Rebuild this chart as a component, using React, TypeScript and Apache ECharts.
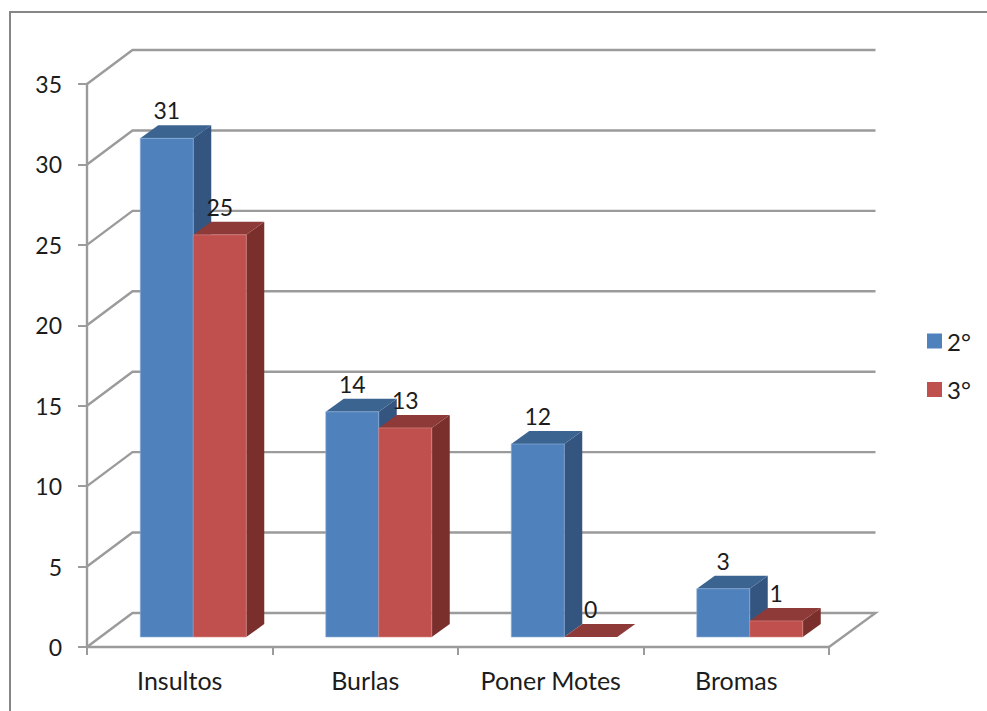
import React, { useEffect, useRef } from "react";
import * as echarts from "echarts";

const categories = ["Insultos", "Burlas", "Poner Motes", "Bromas"];
const seriesNames = ["2°", "3°"];
const values2 = [31, 14, 12, 3];
const values3 = [25, 13, 0, 1];
const wallTicks = [0, 5, 10, 15, 20, 25, 30, 35];

const FONT = "Lato";
const TEXT = "#1c1c1c";
const GRID_COLOR = "#9b9b9b";
const DEPTH_X = 45.5;
const DEPTH_Y = 34;
const WALL_EXTRA = 1;
const FLOOR_X = 13.5;
const FLOOR_Y = 10;
const BAR_W = 53;
const BAR_DX = 18;
const BAR_DY = 13;

const palette = [
  { front: "#4F81BD", top: "#3C6491", side: "#335580", edge: "#8FB2DC" },
  { front: "#C0504D", top: "#8E3A38", side: "#7A2F2D", edge: "#D98A88" },
];

function barRenderer(idx: number) {
  return (params: any, api: any) => {
    const cat = api.value(0);
    const val = api.value(1);
    const [cx, y0] = api.coord([cat, 0]);
    const [, yv] = api.coord([cat, val]);
    const left = cx + FLOOR_X + (idx === 0 ? -BAR_W : 0);
    const right = left + BAR_W;
    const bottom = y0 - FLOOR_Y;
    const top = yv - FLOOR_Y;
    const c = palette[idx];
    const poly = (points: number[][], fill: string) => ({
      type: "polygon",
      shape: { points },
      style: { fill },
    });
    return {
      type: "group",
      children: [
        poly(
          [
            [right, bottom],
            [right + BAR_DX, bottom - BAR_DY],
            [right + BAR_DX, top - BAR_DY],
            [right, top],
          ],
          c.side
        ),
        poly(
          [
            [left, top],
            [left + BAR_DX, top - BAR_DY],
            [right + BAR_DX, top - BAR_DY],
            [right, top],
          ],
          c.top
        ),
        {
          type: "rect",
          shape: { x: left, y: top, width: BAR_W, height: bottom - top },
          style: { fill: c.front, stroke: val > 0 ? c.edge : "none", lineWidth: 0.6 },
        },
        {
          type: "text",
          style: {
            text: String(val),
            x: (left + right) / 2,
            y: top - 28,
            align: "center",
            verticalAlign: "middle",
            fill: TEXT,
            font: `23px ${FONT}`,
          },
        },
      ],
    };
  };
}

function wallRenderer(params: any, api: any) {
  const tick = api.value(1);
  const [x0, y] = api.coord([0, tick]);
  const band = api.size([1, 0])[0];
  const xl = x0 - band / 2;
  const xr = xl + band * categories.length;
  const points = [
    [xl, y],
    [xl + DEPTH_X, y - DEPTH_Y],
    [xr + DEPTH_X + WALL_EXTRA, y - DEPTH_Y],
  ];
  if (tick === 0) points.push([xr, y]);
  return {
    type: "polyline",
    shape: { points },
    style: { fill: "none", stroke: GRID_COLOR, lineWidth: 2.4 },
  };
}

export default function App() {
  const ref = useRef<HTMLDivElement>(null);
  useEffect(() => {
    const chart = echarts.init(ref.current!, undefined, { renderer: "svg" });
    chart.setOption({
      animation: false,
      backgroundColor: "#ffffff",
      graphic: [
        {
          type: "rect",
          shape: { x: 10, y: 12, width: 1100, height: 900 },
          style: { fill: "none", stroke: "#868686", lineWidth: 2 },
          z: 0,
        },
      ],
      grid: { left: 87, top: 84, width: 742, height: 563, containLabel: false },
      legend: {
        data: seriesNames,
        orient: "vertical",
        left: 927,
        top: 329,
        padding: 0,
        icon: "rect",
        itemWidth: 15,
        itemHeight: 15,
        itemGap: 24.5,
        textStyle: { fontFamily: FONT, fontSize: 24, color: TEXT },
      },
      xAxis: {
        type: "category",
        data: categories,
        axisLine: { lineStyle: { color: GRID_COLOR, width: 2.4 } },
        axisTick: { show: true, length: 8, lineStyle: { color: GRID_COLOR, width: 2 } },
        axisLabel: { fontFamily: FONT, fontSize: 25, color: TEXT, margin: 20, interval: 0 },
        splitLine: { show: false },
      },
      yAxis: {
        type: "value",
        min: 0,
        max: 35,
        interval: 5,
        axisLine: { show: true, lineStyle: { color: GRID_COLOR, width: 2.4 } },
        axisTick: { show: true, length: 9, lineStyle: { color: GRID_COLOR, width: 2 } },
        axisLabel: { fontFamily: FONT, fontSize: 23, color: TEXT, margin: 25 },
        splitLine: { show: false },
      },
      series: [
        {
          type: "custom",
          name: "pared",
          silent: true,
          clip: false,
          z: 1,
          data: wallTicks.map((t) => [0, t]),
          renderItem: wallRenderer,
        },
        ...seriesNames.map((name, i) => ({
          type: "custom",
          name,
          clip: false,
          z: 2 + i,
          itemStyle: { color: palette[i].front },
          data: (i === 0 ? values2 : values3).map((v, c) => [c, v]),
          renderItem: barRenderer(i),
        })),
      ],
    });
    return () => chart.dispose();
  }, []);
  return (
    <div
      ref={ref}
      style={{ position: "fixed", left: 0, top: 0, width: 987, height: 711, background: "#fff" }}
    />
  );
}
